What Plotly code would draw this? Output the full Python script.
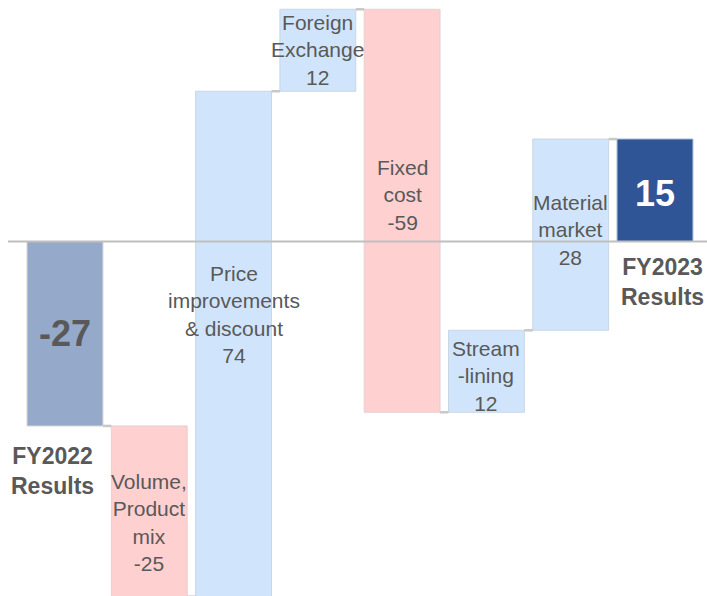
import plotly.graph_objects as go

# ---- data ----
categories = ["FY2022 Results", "Volume, Product mix", "Price improvements & discount",
              "Foreign Exchange", "Fixed cost", "Stream-lining", "Material market", "FY2023 Results"]
values = [-27, -25, 74, 12, -59, 12, 28, 15]
measures = ["absolute", "relative", "relative", "relative", "relative", "relative", "relative", "total"]
bar_labels = ["", "Volume,<br>Product<br>mix", "Price<br>improvements<br>& discount",
              "Foreign<br>Exchange", "Fixed<br>cost", "Stream<br>-lining", "Material<br>market", ""]

# ---- styles ----
fill_colors = ["#95A9CA", "#FFD0D0", "#D0E5FB", "#D0E5FB", "#FFD0D0", "#D0E5FB", "#D0E5FB", "#2F5597"]
line_colors = ["#D0D0D0", "#E8CFCF", "#C9D6E4", "#C9D6E4", "#E8CFCF", "#C9D6E4", "#C9D6E4", "#9FB0CC"]
label_yshift = [0, -11, 29, 0, 16, -5, 5, 0]
FONT = "Arial, Liberation Sans, sans-serif"
TXT = "#595959"
BAR_W = 0.9

# running totals -> bases / heights
bases, heights, levels = [], [], []
run = 0
for v, m in zip(values, measures):
    if m == "absolute":
        bases.append(0); heights.append(v); run = v
    elif m == "total":
        bases.append(0); heights.append(run)
    else:
        bases.append(run); heights.append(v); run += v
    levels.append(run)

xs = list(range(len(categories)))

fig = go.Figure()
fig.add_trace(go.Bar(
    x=xs, y=heights, base=bases, width=BAR_W,
    marker=dict(color=fill_colors, line=dict(color=line_colors, width=1)),
    hovertext=categories, showlegend=False,
))

# connectors
cx, cy = [], []
for i in range(len(xs) - 1):
    cx += [xs[i] + BAR_W / 2, xs[i + 1] - BAR_W / 2, None]
    cy += [levels[i], levels[i], None]
fig.add_trace(go.Scatter(x=cx, y=cy, mode="lines", line=dict(color="#C8C8C8", width=2.5),
                         showlegend=False, hoverinfo="skip"))

annotations = []
for i, lab in enumerate(bar_labels):
    if not lab:
        continue
    annotations.append(dict(
        x=xs[i], y=bases[i] + heights[i] / 2, text=f"{lab}<br>{values[i]}",
        showarrow=False, yshift=label_yshift[i],
        font=dict(family=FONT, size=21, color=TXT)))

# big numbers on start / end bars
annotations.append(dict(x=xs[0], y=heights[0] / 2, text=f"<b>{values[0]}</b>", showarrow=False,
                        font=dict(family=FONT, size=36, color=TXT)))
annotations.append(dict(x=xs[-1], y=heights[-1] / 2, text=f"<b>{heights[-1]}</b>", showarrow=False,
                        yshift=-3, font=dict(family=FONT, size=36, color="white")))
# result labels
annotations.append(dict(x=xs[0], y=heights[0], text="<b>FY2022<br>Results</b>", showarrow=False,
                        xshift=-12, yshift=-45, font=dict(family=FONT, size=23, color=TXT)))
annotations.append(dict(x=xs[-1], y=0, text="<b>FY2023<br>Results</b>", showarrow=False,
                        xshift=8, yshift=-40, font=dict(family=FONT, size=23, color=TXT)))

fig.update_layout(
    width=707, height=596,
    margin=dict(l=0, r=0, t=0, b=0),
    paper_bgcolor="white", plot_bgcolor="white",
    xaxis=dict(range=[-0.771, 7.617], visible=False, fixedrange=True),
    yaxis=dict(range=[-51.9, 35.36], visible=False, fixedrange=True),
    annotations=annotations,
    shapes=[dict(type="line", xref="x", yref="y", x0=-0.676, x1=7.617, y0=0, y1=0,
                 line=dict(color="#BFBFBF", width=2), layer="above")],
    bargap=0.1,
)

fig.write_html(
    "out.html",
    config={"displayModeBar": False},
    post_script="document.body.style.margin='0';document.body.style.overflow='hidden';",
)
